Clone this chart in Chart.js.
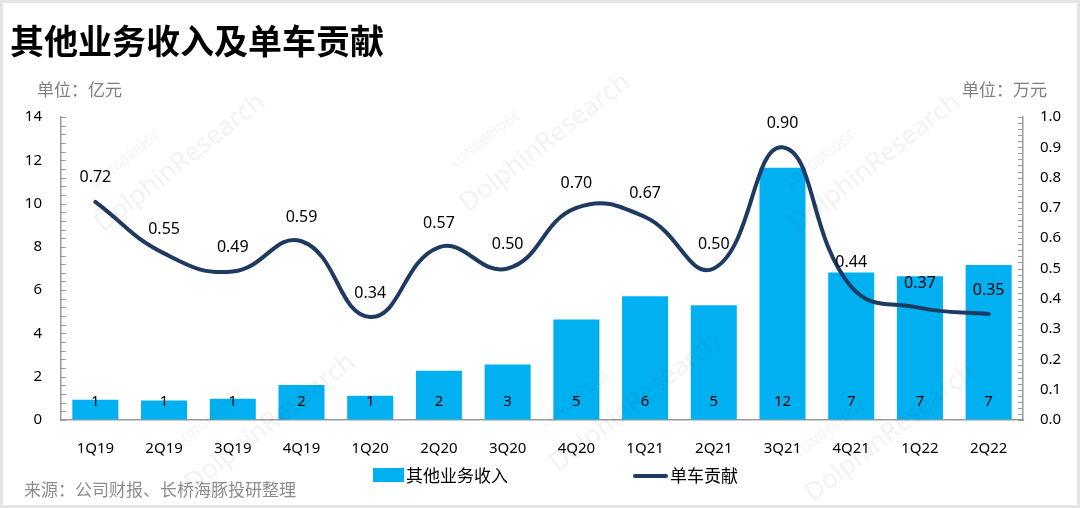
<!DOCTYPE html>
<html>
<head>
<meta charset="utf-8">
<script src="https://cdn.jsdelivr.net/npm/chart.js@4"></script>
<style>
  html, body { margin: 0; padding: 0; background: #fff; }
  #wrap {
    position: relative; width: 1080px; height: 508px; overflow: hidden;
    box-sizing: border-box; border: 3px solid #e4e4e4;
    font-family: "Noto Sans", "Noto Sans CJK SC", sans-serif;
  }
  #myChart { position: absolute; left: -3px; top: -3px; }
  .txt { position: absolute; white-space: nowrap; line-height: 1; }
  .wm {
    position: absolute; white-space: nowrap; color: #000; opacity: 0.05;
    font-family: "Noto Sans", sans-serif; transform-origin: left bottom;
    transform: rotate(-38deg);
  }
</style>
</head>
<body>
<div id="wrap">
  <canvas id="myChart" width="1080" height="508"></canvas>
  <div class="txt" style="left:7px;top:20px;font-size:34px;font-weight:bold;color:#000;font-family:'Noto Sans CJK SC';">其他业务收入及单车贡献</div>
  <div class="txt" style="left:34px;top:77px;font-size:17px;color:#7f7f7f;font-family:'Noto Sans CJK SC';">单位：亿元</div>
  <div class="txt" style="left:959px;top:77px;font-size:17px;color:#7f7f7f;font-family:'Noto Sans CJK SC';">单位：万元</div>
  <div class="txt" style="left:21px;top:477px;font-size:17px;color:#8c8c8c;font-family:'Noto Sans CJK SC';">来源：公司财报、长桥海豚投研整理</div>
  <div style="position:absolute;left:370px;top:465px;width:31px;height:14px;background:#00B0F0;"></div>
  <div class="txt" style="left:403px;top:463px;font-size:17px;color:#000;font-family:'Noto Sans CJK SC';">其他业务收入</div>
  <div style="position:absolute;left:630px;top:471px;width:35px;height:4px;border-radius:2px;background:#1F3A60;"></div>
  <div class="txt" style="left:667px;top:463px;font-size:17px;color:#000;font-family:'Noto Sans CJK SC';">单车贡献</div>

  <div class="wm" style="left:95px;top:170px;font-size:13px;">LONGBRIDGE</div>
  <div class="wm" style="left:105px;top:200px;font-size:26px;">DolphinResearch</div>
  <div class="wm" style="left:455px;top:150px;font-size:13px;">LONGBRIDGE</div>
  <div class="wm" style="left:470px;top:180px;font-size:26px;">DolphinResearch</div>
  <div class="wm" style="left:790px;top:170px;font-size:13px;">LONGBRIDGE</div>
  <div class="wm" style="left:800px;top:200px;font-size:26px;">DolphinResearch</div>
  <div class="wm" style="left:180px;top:430px;font-size:13px;">LONGBRIDGE</div>
  <div class="wm" style="left:195px;top:460px;font-size:26px;">DolphinResearch</div>
  <div class="wm" style="left:545px;top:410px;font-size:13px;">LONGBRIDGE</div>
  <div class="wm" style="left:560px;top:440px;font-size:26px;">DolphinResearch</div>
  <div class="wm" style="left:800px;top:440px;font-size:13px;">LONGBRIDGE</div>
  <div class="wm" style="left:815px;top:470px;font-size:26px;">DolphinResearch</div>
</div>
<script>
const QUARTERS = ["1Q19", "2Q19", "3Q19", "4Q19", "1Q20", "2Q20", "3Q20",
    "4Q20", "1Q21", "2Q21", "3Q21", "4Q21", "1Q22", "2Q22"];

// 其他业务收入 (亿元)
const OTHER_REVENUE = [0.93, 0.9, 0.98, 1.62, 1.12, 2.28, 2.56,
    4.64, 5.72, 5.3, 11.65, 6.82, 6.64, 7.16];

// 单车贡献 (万元)
const PER_CAR = [0.72, 0.55, 0.49, 0.59, 0.34, 0.57, 0.50,
    0.70, 0.67, 0.50, 0.90, 0.44, 0.37, 0.35];

const LEFT_MAX = 14;
const RIGHT_MAX = 1.0;

const FONT = "'Noto Sans', 'Noto Sans CJK SC', sans-serif";

// minor ticks pointing into the plot + value labels
const extras = {
    id: "extras",
    afterDatasetsDraw(chart) {
        const ctx = chart.ctx;
        const yl = chart.scales.y;
        const yr = chart.scales.y1;
        ctx.save();
        ctx.strokeStyle = "#9a9a9a";
        ctx.lineWidth = 1;
        ctx.beginPath();
        for (let i = 0; i <= 35; i++) {
            const py = Math.round(yl.getPixelForValue(i * 0.4)) + 0.5;
            ctx.moveTo(yl.right, py);
            ctx.lineTo(yl.right + 5, py);
        }
        for (let i = 0; i <= 50; i++) {
            const py = Math.round(yr.getPixelForValue(i * 0.02)) + 0.5;
            ctx.moveTo(yr.left, py);
            ctx.lineTo(yr.left - 5, py);
        }
        ctx.stroke();

        ctx.fillStyle = "#000";
        ctx.textAlign = "center";
        ctx.textBaseline = "middle";
        ctx.font = "15px " + FONT;
        const bars = chart.getDatasetMeta(1).data;
        bars.forEach((bar, i) => {
            ctx.fillText(String(Math.round(OTHER_REVENUE[i])), bar.x, yl.getPixelForValue(0) - 18);
        });
        ctx.font = "16px " + FONT;
        const pts = chart.getDatasetMeta(0).data;
        pts.forEach((pt, i) => {
            ctx.fillText(PER_CAR[i].toFixed(2), pt.x, pt.y - 24);
        });
        ctx.restore();
    },
};

const data1 = {
    labels: QUARTERS,
    datasets: [
        {
            type: "line",
            label: "单车贡献",
            data: PER_CAR,
            yAxisID: "y1",
            borderColor: "#1F3A60",
            borderWidth: 4,
            tension: 0.45,
            pointRadius: 0,
            borderCapStyle: "round",
            order: 0,
        },
        {
            type: "bar",
            label: "其他业务收入",
            data: OTHER_REVENUE,
            yAxisID: "y",
            backgroundColor: "#00B0F0",
            barPercentage: 0.67,
            categoryPercentage: 1.0,
            order: 1,
        },
    ],
};

const config1 = {
    data: data1,
    options: {
        responsive: false,
        animation: false,
        layout: { padding: { top: 117, left: 0, right: 0, bottom: 0 } },
        plugins: {
            legend: { display: false },
            tooltip: { enabled: false },
        },
        scales: {
            x: {
                grid: { display: false },
                border: { display: true, color: "#9a9a9a", width: 1.5 },
                ticks: { color: "#000", font: { size: 15, family: FONT }, padding: 12, maxRotation: 0 },
                afterFit(s) { s.height = 88; },
            },
            y: {
                position: "left",
                min: 0,
                max: LEFT_MAX,
                grid: { drawOnChartArea: false, drawTicks: false },
                border: { display: true, color: "#9a9a9a", width: 1.5 },
                ticks: { stepSize: 2, color: "#000", font: { size: 15, family: FONT }, padding: 19 },
                afterFit(s) { s.width = 61; },
            },
            y1: {
                position: "right",
                min: 0,
                max: RIGHT_MAX,
                grid: { drawOnChartArea: false, drawTicks: false },
                border: { display: true, color: "#9a9a9a", width: 1.5 },
                ticks: {
                    stepSize: 0.1, color: "#000", font: { size: 15, family: FONT }, padding: 17,
                    callback: (v) => v.toFixed(1),
                },
                afterFit(s) { s.width = 57; },
            },
        },
    },
    plugins: [extras],
};

var ctx = document.getElementById("myChart").getContext("2d");
var myChart = new Chart(ctx, config1);
</script>
</body>
</html>
